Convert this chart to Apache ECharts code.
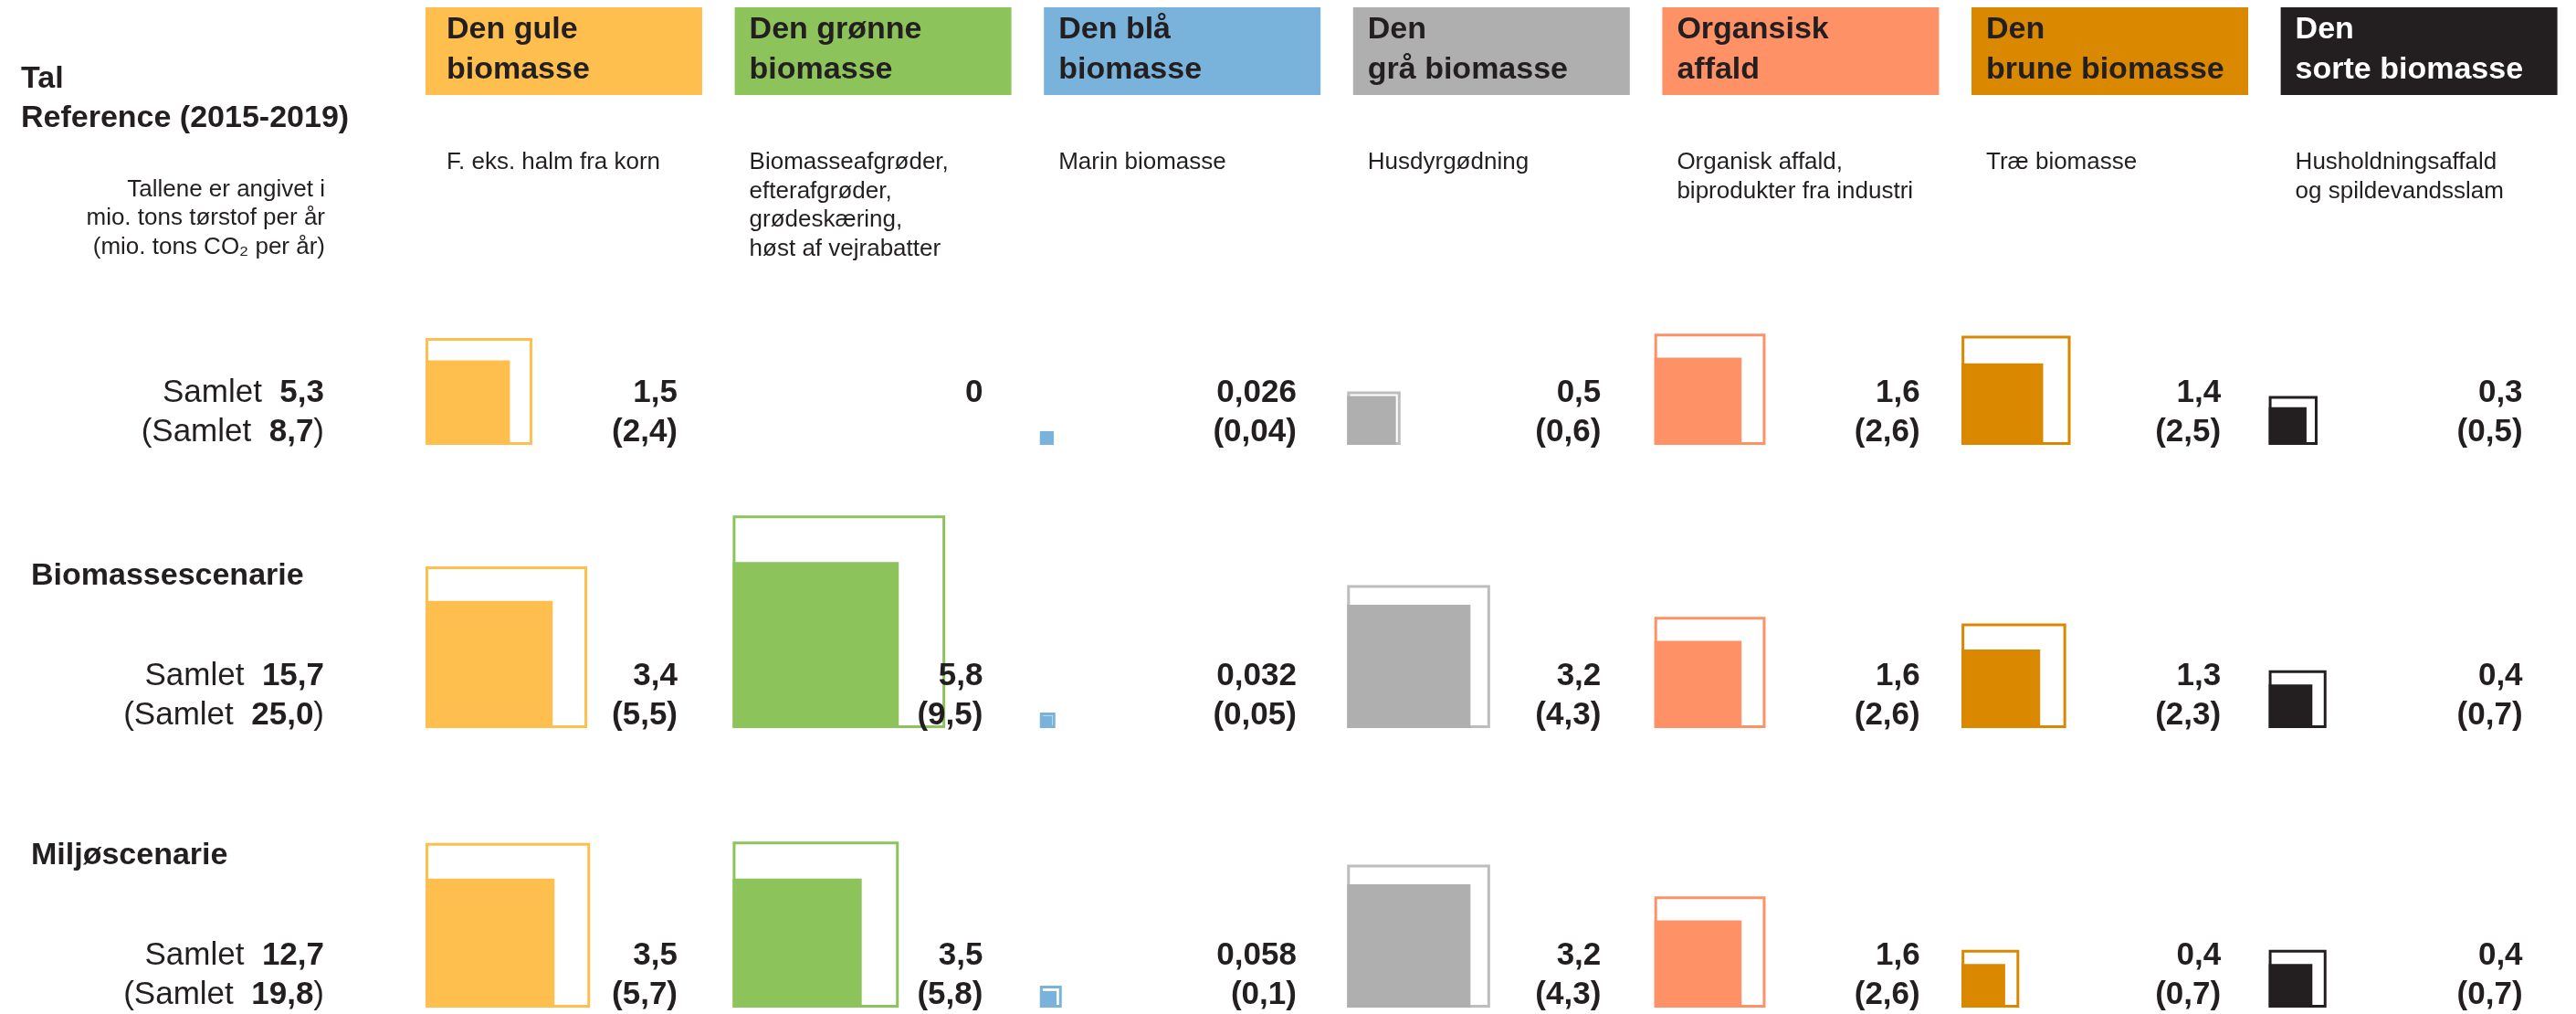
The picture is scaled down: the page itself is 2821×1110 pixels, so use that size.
<!DOCTYPE html>
<html>
<head>
<meta charset="utf-8">
<script src="https://cdn.jsdelivr.net/npm/echarts@6/dist/echarts.min.js"></script>
<style>
  html, body { margin: 0; padding: 0; background: #ffffff; }
  #chart { width: 2821px; height: 1110px; }
</style>
</head>
<body>
<div id="chart"></div>
<script>
// ---- Data: mio. tons dry matter per year, (mio. tons CO2 per year) ----
const categories = [
  'Den gule\nbiomasse',
  'Den grønne\nbiomasse',
  'Den blå\nbiomasse',
  'Den\ngrå biomasse',
  'Organsisk\naffald',
  'Den\nbrune biomasse',
  'Den\nsorte biomasse'
];
const descriptions = [
  'F. eks. halm fra korn',
  'Biomasseafgrøder,\nefterafgrøder,\ngrødeskæring,\nhøst af vejrabatter',
  'Marin biomasse',
  'Husdyrgødning',
  'Organisk affald,\nbiprodukter fra industri',
  'Træ biomasse',
  'Husholdningsaffald\nog spildevandsslam'
];
const colors = ['#FFBF4F', '#8DC35B', '#79B3DC', '#AFAFAF', '#FF9166', '#DA8800', '#231F20'];
const outlineColors = ['#FFBF4F', '#8DC35B', '#79B3DC', '#BDBDBD', '#FF9166', '#DA8800', '#231F20'];
const headerTextColors = ['#231F20', '#231F20', '#231F20', '#231F20', '#231F20', '#231F20', '#FFFFFF'];

const scenarioTitles = ['Reference (2015-2019)', 'Biomassescenarie', 'Miljøscenarie'];

const referenceDryMatter = [1.5, 0, 0.026, 0.5, 1.6, 1.4, 0.3];
const referenceCO2       = [2.4, null, 0.04, 0.6, 2.6, 2.5, 0.5];
const biomassDryMatter   = [3.4, 5.8, 0.032, 3.2, 1.6, 1.3, 0.4];
const biomassCO2         = [5.5, 9.5, 0.05, 4.3, 2.6, 2.3, 0.7];
const environDryMatter   = [3.5, 3.5, 0.058, 3.2, 1.6, 0.4, 0.4];
const environCO2         = [5.7, 5.8, 0.1, 4.3, 2.6, 0.7, 0.7];

const totalDryMatter = [5.3, 15.7, 12.7];
const totalCO2       = [8.7, 25.0, 19.8];

// ---- Layout ----
const FONT = '"Liberation Sans", Arial, sans-serif';
const INK = '#231F20';
const COL_X0 = 466, COL_STEP = 338.6, NCOL = categories.length;
const ROW_BOTTOM = [487, 797, 1103];
const Y_MAX = 4, PX_PER_UNIT = 75.5;           // side of a square = sqrt(value) units
const GRID_H = Y_MAX * PX_PER_UNIT;
const LABEL_RIGHT = [276, 274, 281, 278, 291, 284, 278];
const VALUE_FS = 35;
const LINE1_UP = 44, LINE2_UP = 1;             // baselines above the square bottom

const rows = [
  { dm: referenceDryMatter, co2: referenceCO2 },
  { dm: biomassDryMatter, co2: biomassCO2 },
  { dm: environDryMatter, co2: environCO2 }
];

const fmt = v => String(v).replace('.', ',');
const fmt1 = v => v.toFixed(1).replace('.', ',');
const mid = (baseline, fs) => baseline - 0.35 * fs;

const grids = [], xAxes = [], yAxes = [], series = [];
rows.forEach((row, r) => {
  grids.push({ left: COL_X0, top: ROW_BOTTOM[r] - GRID_H, width: COL_STEP * NCOL, height: GRID_H });
  xAxes.push({ type: 'value', gridIndex: r, min: 0, max: NCOL, show: false });
  yAxes.push({ type: 'value', gridIndex: r, min: 0, max: Y_MAX, show: false });
  series.push({
    type: 'custom',
    coordinateSystem: 'cartesian2d',
    xAxisIndex: r,
    yAxisIndex: r,
    clip: false,
    silent: true,
    data: row.dm.map((v, i) => [i, v]),
    renderItem: function (params, api) {
      const i = params.dataIndex;
      const dm = row.dm[i];
      const co2 = row.co2[i];
      const origin = api.coord([i, 0]);
      const x = origin[0], y = origin[1];
      const children = [];
      // CO2 as an outlined square, dry matter as a filled square, both sharing the lower-left corner
      if (co2 != null && co2 > 0) {
        const s = api.size([0, Math.sqrt(co2)])[1];
        children.push({
          type: 'rect',
          shape: { x: x + 1.5, y: y - s + 1.5, width: s - 3, height: s - 3 },
          style: { fill: null, stroke: outlineColors[i], lineWidth: 3 }
        });
      }
      if (dm > 0) {
        const s = api.size([0, Math.sqrt(dm)])[1];
        children.push({
          type: 'rect',
          shape: { x: x, y: y - s, width: s, height: s },
          style: { fill: colors[i] }
        });
      }
      const lx = x + LABEL_RIGHT[i];
      children.push({
        type: 'text',
        style: {
          text: fmt(dm), x: lx, y: mid(y - LINE1_UP, VALUE_FS), align: 'right', verticalAlign: 'middle',
          fontSize: VALUE_FS, fontWeight: 'bold', fontFamily: FONT, fill: INK
        }
      });
      if (co2 != null) {
        children.push({
          type: 'text',
          style: {
            text: '(' + fmt(co2) + ')', x: lx, y: mid(y - LINE2_UP, VALUE_FS), align: 'right', verticalAlign: 'middle',
            fontSize: VALUE_FS, fontWeight: 'bold', fontFamily: FONT, fill: INK
          }
        });
      }
      return { type: 'group', children: children };
    }
  });
});

// ---- Headers, descriptions and row texts ----
const graphics = [];
categories.forEach((name, i) => {
  const left = COL_X0 + i * COL_STEP;
  const indent = i === 0 ? 23 : 16;
  graphics.push({
    type: 'rect', left: left, top: 8, shape: { width: 303, height: 96 },
    style: { fill: colors[i] }, silent: true
  });
  graphics.push({
    type: 'text', left: left + indent, top: 11, silent: true,
    style: { text: name, fontSize: 34, fontWeight: 'bold', fontFamily: FONT, lineHeight: 44, fill: headerTextColors[i] }
  });
  graphics.push({
    type: 'text', left: left + indent, top: 162, silent: true,
    style: { text: descriptions[i], fontSize: 26, fontFamily: FONT, lineHeight: 31.7, fill: INK }
  });
});

graphics.push({
  type: 'text', left: 23, top: 65, silent: true,
  style: { text: 'Tal\n' + scenarioTitles[0], fontSize: 34, fontWeight: 'bold', fontFamily: FONT, lineHeight: 43, fill: INK }
});
graphics.push({
  type: 'text', silent: true,
  style: {
    text: 'Tallene er angivet i\nmio. tons tørstof per år\n(mio. tons CO₂ per år)',
    x: 356, y: 192, align: 'right', verticalAlign: 'top',
    fontSize: 26, fontFamily: FONT, lineHeight: 31.5, fill: INK
  }
});
[1, 2].forEach(r => {
  graphics.push({
    type: 'text', left: 34, top: ROW_BOTTOM[r] - 183, silent: true,
    style: { text: scenarioTitles[r], fontSize: 34, fontWeight: 'bold', fontFamily: FONT, fill: INK }
  });
});

const totalRich = {
  a: { fontSize: 35, fontFamily: FONT, fill: INK },
  b: { fontSize: VALUE_FS, fontWeight: 'bold', fontFamily: FONT, fill: INK }
};
rows.forEach((row, r) => {
  graphics.push({
    type: 'text', silent: true,
    style: {
      text: '{a|Samlet\u00A0\u00A0}{b|' + fmt1(totalDryMatter[r]) + '}',
      x: 355, y: mid(ROW_BOTTOM[r] - LINE1_UP, VALUE_FS), align: 'right', verticalAlign: 'middle', rich: totalRich
    }
  });
  graphics.push({
    type: 'text', silent: true,
    style: {
      text: '{a|(Samlet\u00A0\u00A0}{b|' + fmt1(totalCO2[r]) + '}{a|)}',
      x: 355, y: mid(ROW_BOTTOM[r] - LINE2_UP, VALUE_FS), align: 'right', verticalAlign: 'middle', rich: totalRich
    }
  });
});

const chart = echarts.init(document.getElementById('chart'), null, { renderer: 'canvas' });
chart.setOption({
  backgroundColor: '#ffffff',
  animation: false,
  grid: grids,
  xAxis: xAxes,
  yAxis: yAxes,
  series: series,
  graphic: graphics
});
</script>
</body>
</html>
